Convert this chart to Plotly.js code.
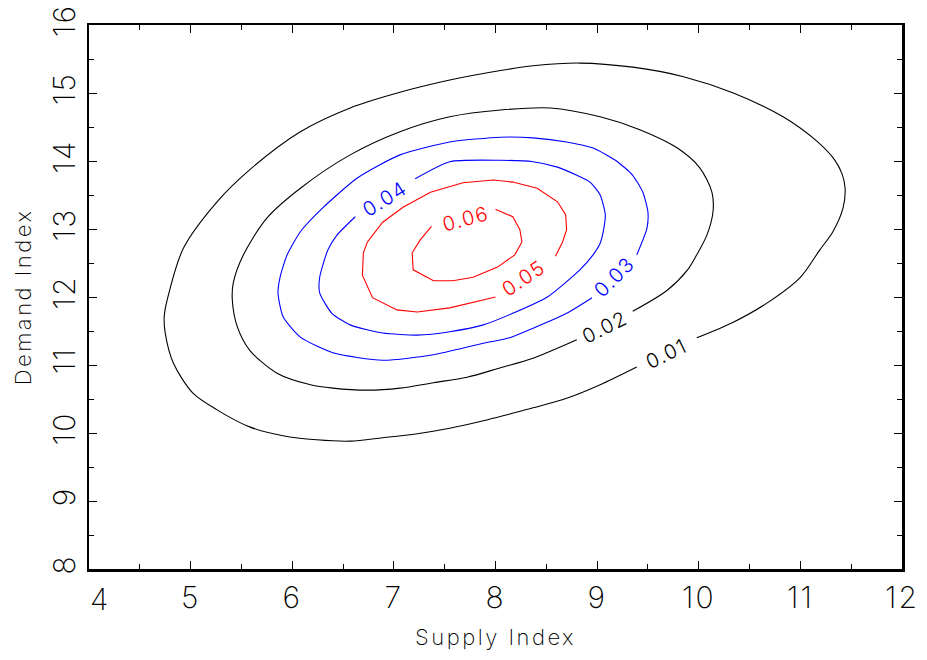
<!DOCTYPE html>
<html>
<head>
<meta charset="utf-8">
<script src="https://cdn.plot.ly/plotly-3.0.1.min.js"></script>
<style>
  html, body { margin: 0; padding: 0; background: #fff; }
  #chart { width: 927px; height: 660px; }
  .xtick text, .ytick text { letter-spacing: 2px; }
  .xtitle, .ytitle { letter-spacing: 2.5px; }
  .annotation-text { letter-spacing: 1.5px; }
</style>
</head>
<body>
<div id="chart"></div>
<script>
// ---- Data ----
const xTickVals = [5, 6, 7, 8, 9, 10, 11, 12];
const xTickText = ['5', '6', '7', '8', '9', '10', '11', '12'];
const yTickVals = [8, 9, 10, 11, 12, 13, 14, 15, 16];
const yTickText = ['8', '9', '10', '11', '12', '13', '14', '15', '16'];

const levels = [0.01, 0.02, 0.03, 0.04, 0.05, 0.06];
const levelText = ['0.01', '0.02', '0.03', '0.04', '0.05', '0.06'];

// contour 0.01
const c01x = [9.98,10.34,10.67,11.00,11.19,11.32,11.42,11.44,11.41,11.34,11.17,10.83,10.34,9.85,9.35,8.83,8.37,8.05,7.55,7.06,6.57,6.08,5.58,5.26,4.93,4.77,4.74,4.75,4.83,5.02,5.26,5.58,5.91,6.24,6.57,6.89,7.23,7.55,7.88,8.14,8.37,8.70,9.03,9.39];
const c01y = [11.40,11.63,11.91,12.29,12.69,12.96,13.31,13.60,13.81,14.01,14.28,14.65,15.00,15.24,15.38,15.44,15.40,15.33,15.19,15.01,14.78,14.43,13.87,13.40,12.72,11.96,11.71,11.47,11.03,10.59,10.34,10.09,9.96,9.90,9.88,9.93,9.99,10.07,10.18,10.28,10.37,10.51,10.71,10.97];
// contour 0.02
const c02x = [9.35,9.69,9.89,9.98,10.08,10.14,10.13,10.01,9.79,9.42,9.03,8.54,8.05,7.55,7.06,6.57,6.08,5.75,5.52,5.42,5.41,5.46,5.58,5.85,6.18,6.40,6.74,7.06,7.39,7.72,8.05,8.37,8.80];
const c02y = [11.79,12.10,12.40,12.62,12.91,13.25,13.54,13.90,14.19,14.46,14.65,14.78,14.75,14.65,14.43,14.09,13.60,13.16,12.62,12.21,11.96,11.56,11.22,10.88,10.71,10.66,10.63,10.66,10.74,10.82,10.96,11.10,11.37];
// contour 0.03
const c03x = [9.39,9.49,9.50,9.45,9.35,9.20,8.96,8.70,8.37,8.05,7.55,7.06,6.64,6.30,6.08,5.95,5.88,5.86,5.91,6.08,6.40,6.89,7.39,7.88,8.14,8.37,8.70,8.95];
const c03y = [12.62,13.01,13.25,13.54,13.79,13.99,14.19,14.28,14.34,14.35,14.28,14.09,13.75,13.31,12.96,12.62,12.29,12.06,11.71,11.41,11.18,11.07,11.15,11.32,11.40,11.54,11.76,11.99];
// contour 0.04
const c04x = [7.21,7.55,8.05,8.37,8.61,8.80,8.93,9.03,9.08,9.06,9.03,8.96,8.83,8.51,8.17,7.88,7.55,7.23,6.89,6.57,6.39,6.27,6.27,6.35,6.44,6.62];
const c04y = [13.74,13.99,14.01,13.99,13.91,13.79,13.69,13.50,13.21,12.96,12.79,12.62,12.40,12.00,11.76,11.59,11.49,11.44,11.47,11.59,11.76,12.06,12.29,12.69,12.91,13.18];
// contour 0.05
const c05x = [8.59,8.66,8.70,8.69,8.61,8.41,8.17,7.98,7.68,7.36,7.09,6.89,6.74,6.70,6.69,6.79,7.03,7.23,7.55,8.00];
const c05y = [12.60,12.81,12.99,13.21,13.40,13.60,13.69,13.72,13.68,13.54,13.32,13.10,12.81,12.65,12.32,11.99,11.81,11.78,11.84,12.00];
// contour 0.06
const c06x = [8.00,8.17,8.24,8.26,8.19,8.02,7.78,7.58,7.39,7.19,7.18,7.26,7.37];
const c06y = [13.29,13.18,12.99,12.81,12.62,12.44,12.29,12.24,12.24,12.40,12.65,12.84,13.04];

// contour label anchor points and slopes (degrees, along the line)
const labelX = [9.68, 9.08, 9.17, 6.91, 8.28, 7.70];
const labelY = [11.16, 11.56, 12.29, 13.44, 12.28, 13.15];
const labelAngle = [-26, -27, -45, -32, -34, -15];

// ---- Styling ----
const lineColors = ['#000000', '#000000', '#0000ff', '#0000ff', '#ff0000', '#ff0000'];
const lineShapes = ['spline', 'spline', 'spline', 'spline', 'linear', 'linear'];
const lineSmooth = [0.85, 0.85, 0.6, 0.6, 0, 0];
const FONT = 'Inter, Lato, Roboto, sans-serif';
const FW = 200;

const xs = [c01x, c02x, c03x, c04x, c05x, c06x];
const ys = [c01y, c02y, c03y, c04y, c05y, c06y];

const traces = levels.map((lv, i) => ({
  type: 'scatter',
  mode: 'lines',
  x: xs[i],
  y: ys[i],
  name: levelText[i],
  line: lineShapes[i] === 'spline'
    ? { color: lineColors[i], width: 1.1, shape: 'spline', smoothing: lineSmooth[i] }
    : { color: lineColors[i], width: 1.1, shape: 'linear' },
  hoverinfo: 'skip',
  showlegend: false
}));

const annotations = levels.map((lv, i) => ({
  x: labelX[i], y: labelY[i], xref: 'x', yref: 'y',
  text: levelText[i], showarrow: false, textangle: labelAngle[i],
  font: { family: FONT, size: 20, color: lineColors[i], weight: 300 },
  xanchor: 'center', yanchor: 'middle'
}));

// the first x tick label sits slightly right of the frame corner in the reference
annotations.push({
  x: 4, y: 0, xref: 'x', yref: 'paper', text: '4', showarrow: false,
  xanchor: 'center', yanchor: 'top', xshift: 11, yshift: -10,
  font: { family: FONT, size: 30, color: '#000', weight: FW }
});

const axisCommon = {
  showline: true, linewidth: 2.5, linecolor: '#000', mirror: 'allticks',
  ticks: 'inside', ticklen: 8, tickwidth: 1, tickcolor: '#000',
  showgrid: false, zeroline: false, automargin: false,
  tickfont: { family: FONT, size: 30, color: '#000', weight: FW },
  minor: { dtick: 0.5, ticks: 'inside', ticklen: 5, tickwidth: 1, tickcolor: '#000', showgrid: false }
};

const layout = {
  width: 927, height: 660,
  margin: { l: 89, r: 25, t: 25, b: 91, pad: 0 },
  paper_bgcolor: '#fff', plot_bgcolor: '#fff',
  showlegend: false,
  xaxis: Object.assign({}, axisCommon, {
    range: [4, 12], tickmode: 'array', tickvals: xTickVals, ticktext: xTickText,
    title: { text: 'Supply Index', font: { family: FONT, size: 22, color: '#000', weight: FW }, standoff: 16 }
  }),
  yaxis: Object.assign({}, axisCommon, {
    range: [8, 16], tickmode: 'array', tickvals: yTickVals, ticktext: yTickText, tickangle: -90,
    title: { text: 'Demand Index', font: { family: FONT, size: 22, color: '#000', weight: FW }, standoff: 8 }
  }),
  annotations: annotations
};

Plotly.newPlot('chart', traces, layout, { displayModeBar: false, staticPlot: true });
</script>
</body>
</html>
